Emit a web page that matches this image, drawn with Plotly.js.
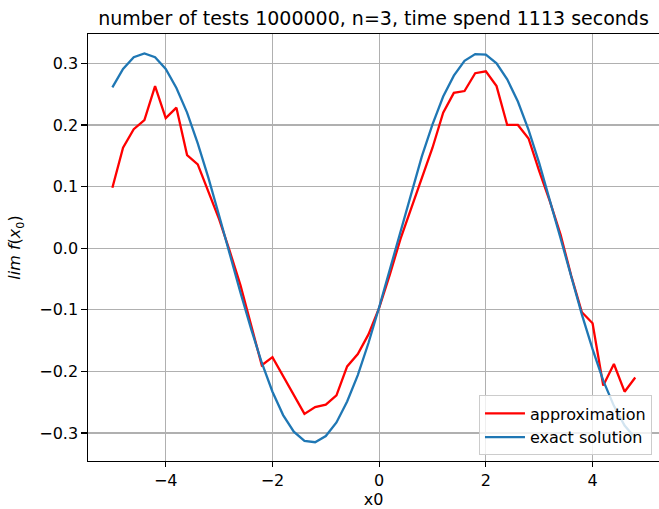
<!DOCTYPE html>
<html>
<head>
<meta charset="utf-8">
<script src="https://cdn.plot.ly/plotly-3.0.1.min.js"></script>
<style>html,body{margin:0;padding:0;background:#fff;overflow:hidden}</style>
</head>
<body>
<div id="chart" style="width:659px;height:509px"></div>
<script>
const xValues = [-5.0,-4.8,-4.6,-4.4,-4.2,-4.0,-3.8,-3.6,-3.4,-3.2,-3.0,-2.8,-2.6,-2.4,-2.2,-2.0,-1.8,-1.6,-1.4,-1.2,-1.0,-0.8,-0.6,-0.4,-0.2,0.0,0.2,0.4,0.6,0.8,1.0,1.2,1.4,1.6,1.8,2.0,2.2,2.4,2.6,2.8,3.0,3.2,3.4,3.6,3.8,4.0,4.2,4.4,4.6,4.8];
const approximation = [0.098,0.163,0.193,0.208,0.263,0.211,0.228,0.151,0.136,0.093,0.047,-0.005,-0.060,-0.125,-0.190,-0.177,-0.208,-0.238,-0.269,-0.258,-0.254,-0.239,-0.192,-0.172,-0.140,-0.097,-0.043,0.015,0.065,0.114,0.163,0.220,0.252,0.255,0.284,0.287,0.263,0.200,0.200,0.178,0.125,0.076,0.022,-0.045,-0.104,-0.122,-0.223,-0.188,-0.233,-0.210];
const exactSolution = [0.261,0.291,0.310,0.316,0.310,0.291,0.260,0.220,0.170,0.114,0.053,-0.010,-0.072,-0.131,-0.186,-0.233,-0.271,-0.298,-0.313,-0.315,-0.305,-0.283,-0.249,-0.206,-0.154,-0.096,-0.035,0.028,0.090,0.149,0.201,0.246,0.280,0.304,0.315,0.314,0.300,0.274,0.238,0.192,0.138,0.079,0.016,-0.046,-0.108,-0.164,-0.215,-0.256,-0.288,-0.308];
const xTicks = [-4,-2,0,2,4];
const yTicks = [-0.3,-0.2,-0.1,0.0,0.1,0.2,0.3];

const FONT = 'DejaVu Sans, sans-serif';
const traces = [
  {x: xValues, y: approximation, type: 'scatter', mode: 'lines', name: 'approximation',
   line: {color: '#ff0000', width: 2.3}},
  {x: xValues, y: exactSolution, type: 'scatter', mode: 'lines', name: 'exact solution',
   line: {color: '#1f77b4', width: 2.3}}
];
const layout = {
  width: 659, height: 509,
  margin: {l: 88, r: 0, t: 34, b: 48, pad: 0},
  paper_bgcolor: '#ffffff', plot_bgcolor: '#ffffff',
  font: {family: FONT, size: 16, color: '#000000'},
  title: {text: 'number of tests 1000000, n=3, time spend 1113 seconds',
          font: {family: FONT, size: 19, color: '#000000'},
          x: 0.5, xref: 'paper', xanchor: 'center', y: 1, yref: 'paper', yanchor: 'bottom', pad: {b: 9}},
  xaxis: {range: [-5.457, 5.245], tickvals: xTicks, ticktext: xTicks.map(v => v < 0 ? '\u2212' + Math.abs(v) : String(v)),
          showgrid: true, gridcolor: '#b0b0b0', gridwidth: 1.2, zeroline: false,
          showline: true, linecolor: '#000000', linewidth: 1.2, mirror: true,
          ticks: 'outside', ticklen: 5, tickwidth: 1.2, tickcolor: '#000000',
          tickfont: {family: FONT, size: 16, color: '#000000'},
          title: {text: 'x0', font: {family: FONT, size: 16, color: '#000000'}, standoff: 9}},
  yaxis: {range: [-0.3455, 0.3476], tickvals: yTicks, ticktext: yTicks.map(v => v < 0 ? '\u2212' + Math.abs(v).toFixed(1) : v.toFixed(1)),
          showgrid: true, gridcolor: '#b0b0b0', gridwidth: 1.2, zeroline: false,
          showline: true, linecolor: '#000000', linewidth: 1.2, mirror: false,
          ticks: 'outside', ticklen: 5.5, tickwidth: 1.2, tickcolor: '#000000',
          tickfont: {family: FONT, size: 16, color: '#000000'},
          title: {text: '<i>lim f</i>(<i>x</i><sub>0</sub>)', font: {family: FONT, size: 16, color: '#000000'}, standoff: 14}},
  showlegend: true,
  legend: {x: 0.9877, y: 0.013, xanchor: 'right', yanchor: 'bottom', itemwidth: 40,
           bgcolor: 'rgba(255,255,255,0.8)', bordercolor: '#cccccc', borderwidth: 1,
           font: {family: FONT, size: 16, color: '#000000'}}
};
Plotly.newPlot('chart', traces, layout, {displayModeBar: false, staticPlot: true});
</script>
</body>
</html>
